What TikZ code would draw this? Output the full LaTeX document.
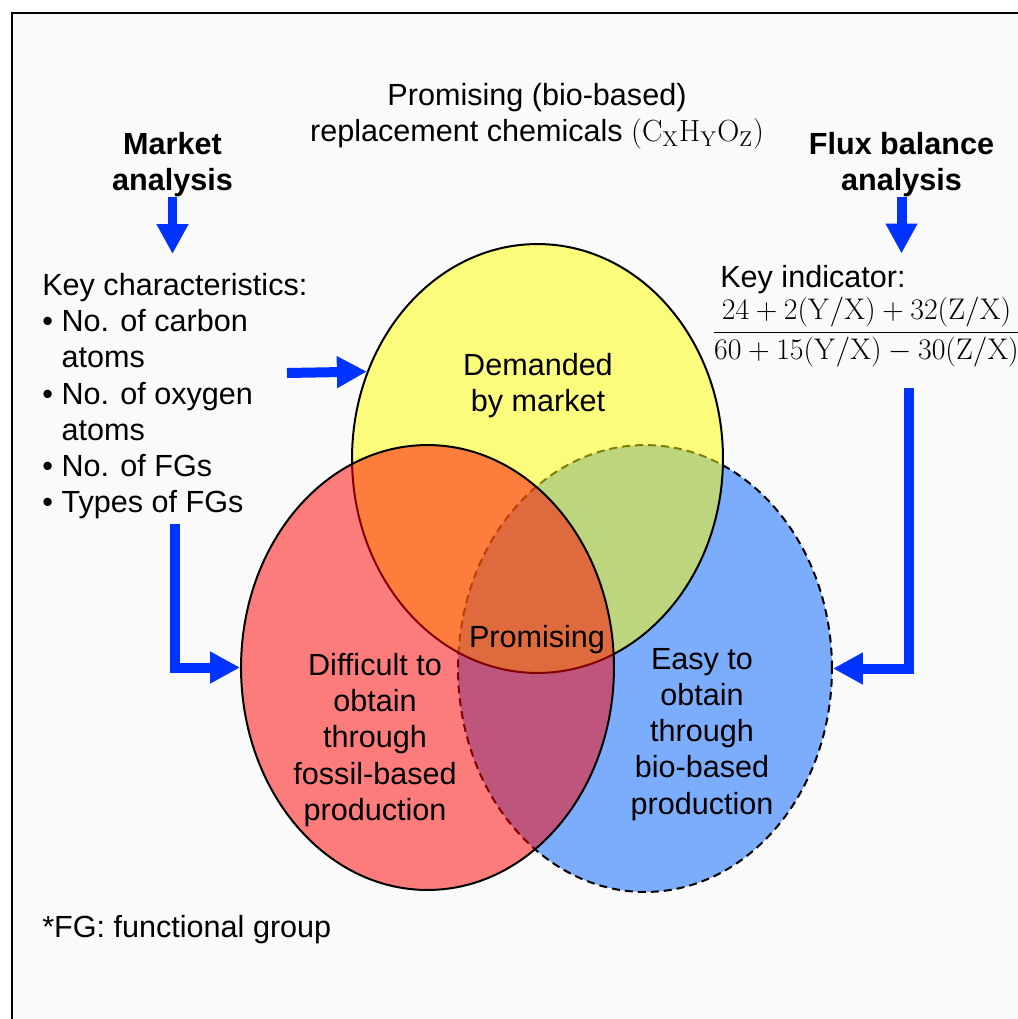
\documentclass[tikz,border=0pt]{standalone}
\usepackage{fix-cm}
\usepackage[no-math]{fontspec}
\setmainfont{Liberation Sans}
\usetikzlibrary{arrows.meta,shapes.geometric,positioning}

\definecolor{flowblue}{RGB}{0,51,255}
\definecolor{pagebg}{RGB}{250,250,250}
\definecolor{vennyellow}{RGB}{255,255,0}
\definecolor{vennred}{RGB}{255,0,0}
\definecolor{vennblue}{RGB}{0,96,255}

\begin{document}
\begin{tikzpicture}[x=0.02cm, y=-0.02cm,
  txt/.style={inner sep=0pt, font=\fontsize{17.4}{20.6}\selectfont, align=center},
  head/.style={txt, font=\fontsize{17.4}{20.6}\selectfont\bfseries},
  venn/.style={ellipse, draw=black, line width=0.04cm, fill opacity=0.5, inner sep=0pt},
  flow/.style={draw=flowblue, line width=0.2cm, -{Triangle[width=0.6cm,length=0.6cm]}}]

\useasboundingbox (0,0) rectangle (1018,1019);
\fill[pagebg] (11,12) rectangle (1018,1019);
\draw[line width=0.04cm] (12,1019) |- (1018,13);

% Venn sets
\node[venn, fill=vennblue, dash pattern=on 0.16cm off 0.1cm, minimum width=7.48cm, minimum height=8.94cm] (bio) at (645,668.5) {};
\node[venn, fill=vennyellow, minimum width=7.42cm, minimum height=8.58cm] (dem) at (537.5,458.5) {};
\node[venn, fill=vennred, minimum width=7.46cm, minimum height=8.9cm] (fos) at (427.5,667.5) {};

% Nodes
\node[txt, anchor=north] (title) at (537,83) {Promising (bio-based)\\replacement chemicals $(\mathrm{C_XH_YO_Z})$};
\node[head, anchor=north] (mkt) at (172.5,132) {Market\\analysis};
\node[head, anchor=north] (flux) at (901.5,132) {Flux balance\\analysis};
\node[txt, align=left, anchor=north west] (kc) at (42,273) {Key characteristics:\\
  \textbullet\ No. of carbon\\ \hphantom{\textbullet\ }atoms\\
  \textbullet\ No. of oxygen\\ \hphantom{\textbullet\ }atoms\\
  \textbullet\ No. of FGs\\
  \textbullet\ Types of FGs};
\node[txt, anchor=base west] (ki) at (720,287) {Key indicator:};
\node[inner sep=0pt, font=\fontsize{17}{20}\selectfont] (ratio) at (866.5,332)
  {$\displaystyle\frac{24+2(\mathrm{Y}/\mathrm{X})+32(\mathrm{Z}/\mathrm{X})}{60+15(\mathrm{Y}/\mathrm{X})-30(\mathrm{Z}/\mathrm{X})}$};

\node[txt, anchor=north] (demtxt) at (538,353) {Demanded\\by market};
\node[txt, anchor=base] (promtxt) at (537,647) {Promising};
\node[txt, anchor=north] (fostxt) at (375,653) {Difficult to\\obtain\\through\\fossil-based\\production};
\node[txt, anchor=north] (biotxt) at (702,648) {Easy to\\obtain\\through\\bio-based\\production};
\node[txt, anchor=base west] (fgnote) at (42,937) {*FG: functional group};

\coordinate (kc-right) at (287,373);
\coordinate (ki-down) at (909,388);

% Arrows
\draw[flow, shorten >=0.38cm] (mkt) -- (mkt |- kc.north);
\draw[flow, shorten >=0.22cm] (flux) -- (flux |- ki.north);
\draw[flow] (kc-right) -- (dem.153);
\draw[flow, shorten <=0.1cm] (kc.south) |- (fos.west);
\draw[flow] (ki-down) |- (bio.east);

\end{tikzpicture}
\end{document}
